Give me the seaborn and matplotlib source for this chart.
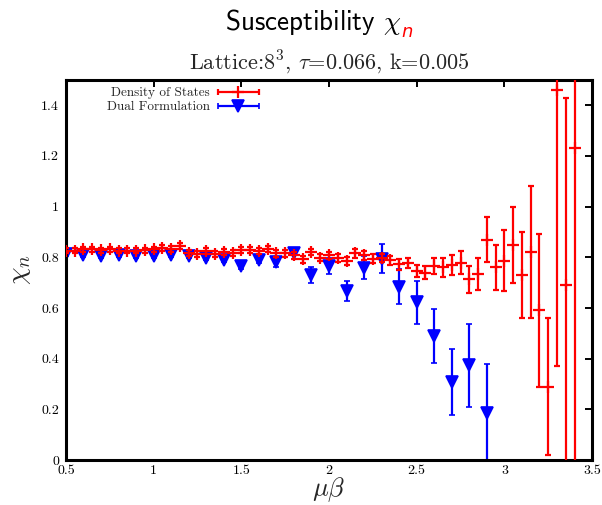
import numpy as np
import matplotlib
matplotlib.use('Agg')
import matplotlib.pyplot as plt
from matplotlib.legend_handler import HandlerErrorbar
import seaborn as sns

# data: density of states (red) and dual formulation (blue)
mu_dos = [0.50, 0.55, 0.60, 0.65, 0.70, 0.75, 0.80, 0.85, 0.90, 0.95,
          1.00, 1.05, 1.10, 1.15, 1.20, 1.25, 1.30, 1.35, 1.40, 1.45,
          1.50, 1.55, 1.60, 1.65, 1.70, 1.75, 1.80, 1.85, 1.90, 1.95,
          2.00, 2.05, 2.10, 2.15, 2.20, 2.25, 2.30, 2.35, 2.40, 2.45,
          2.50, 2.55, 2.60, 2.65, 2.70, 2.75, 2.80, 2.85, 2.90, 2.95,
          3.00, 3.05, 3.10, 3.15, 3.20, 3.25, 3.30, 3.35, 3.40]
chi_dos = [0.825, 0.825, 0.832, 0.832, 0.828, 0.832, 0.825, 0.825, 0.825, 0.828,
           0.832, 0.838, 0.832, 0.846, 0.818, 0.812, 0.825, 0.814, 0.822, 0.818,
           0.828, 0.828, 0.825, 0.832, 0.815, 0.815, 0.807, 0.792, 0.821, 0.798,
           0.807, 0.798, 0.785, 0.815, 0.807, 0.795, 0.798, 0.788, 0.772, 0.778,
           0.745, 0.739, 0.765, 0.760, 0.768, 0.778, 0.713, 0.735, 0.870, 0.760,
           0.787, 0.850, 0.730, 0.820, 0.590, 0.290, 1.460, 0.690, 1.230]
err_dos = [0.010, 0.010, 0.010, 0.010, 0.010, 0.010, 0.010, 0.010, 0.010, 0.010,
           0.010, 0.012, 0.012, 0.012, 0.012, 0.012, 0.012, 0.012, 0.012, 0.012,
           0.012, 0.013, 0.013, 0.013, 0.013, 0.013, 0.013, 0.013, 0.013, 0.013,
           0.013, 0.016, 0.016, 0.016, 0.016, 0.016, 0.016, 0.017, 0.023, 0.021,
           0.024, 0.025, 0.031, 0.038, 0.040, 0.046, 0.054, 0.063, 0.087, 0.090,
           0.120, 0.150, 0.170, 0.260, 0.300, 0.270, 1.090, 0.740, 1.300]

mu_dual = [0.5, 0.6, 0.7, 0.8, 0.9, 1.0, 1.1, 1.2, 1.3, 1.4, 1.5, 1.6, 1.7,
           1.8, 1.9, 2.0, 2.1, 2.2, 2.3, 2.4, 2.5, 2.6, 2.7, 2.8, 2.9]
chi_dual = [0.814, 0.810, 0.805, 0.808, 0.805, 0.805, 0.810, 0.805, 0.798,
            0.790, 0.765, 0.790, 0.780, 0.815, 0.730, 0.765, 0.666, 0.759,
            0.795, 0.684, 0.623, 0.488, 0.309, 0.373, 0.184]
err_dual = [0.008, 0.008, 0.008, 0.008, 0.008, 0.008, 0.008, 0.008, 0.008,
            0.008, 0.010, 0.012, 0.020, 0.020, 0.030, 0.033, 0.040, 0.045,
            0.056, 0.070, 0.085, 0.107, 0.130, 0.165, 0.196]

xticks = [0.5, 1, 1.5, 2, 2.5, 3, 3.5]
xticklabels = ['0.5', '1', '1.5', '2', '2.5', '3', '3.5']
yticks = [0, 0.2, 0.4, 0.6, 0.8, 1.0, 1.2, 1.4]
yticklabels = ['0', '0.2', '0.4', '0.6', '0.8', '1', '1.2', '1.4']

sns.set_style('white')
plt.rcParams['mathtext.fontset'] = 'cm'
plt.rcParams['font.family'] = ['cmr10', 'DejaVu Serif']
plt.rcParams['axes.unicode_minus'] = False

fig = plt.figure(figsize=(6.02, 5.05), dpi=100)
ax = fig.add_axes([0.1095, 0.089, 0.874, 0.753])

red = '#ff0000'
blue = '#0000ff'
kw_red = dict(color=red, ms=8, mew=1.6, elinewidth=1.6, capsize=2.2, capthick=1.6)
kw_blue = dict(color=blue, ms=8, mew=1.2, elinewidth=1.6, capsize=2.2, capthick=1.6)

ax.errorbar(mu_dos, chi_dos, yerr=err_dos, fmt='+', zorder=3, **kw_red)
ax.errorbar(mu_dual, chi_dual, yerr=err_dual, fmt='v', zorder=2, **kw_blue)

# legend samples in gnuplot style: horizontal bar with caps
h1 = ax.errorbar([np.nan], [np.nan], xerr=[1], fmt='+', label='Density of States', **kw_red)
h2 = ax.errorbar([np.nan], [np.nan], xerr=[1], fmt='v', label='Dual Formulation', **kw_blue)

ax.set_xlim(0.5, 3.5)
ax.set_ylim(0, 1.5)
ax.set_xticks(xticks)
ax.set_xticklabels(xticklabels, fontsize=10)
ax.set_yticks(yticks)
ax.set_yticklabels(yticklabels, fontsize=10)
ax.tick_params(direction='in', length=5, width=1.4, top=True, right=True,
               colors='black', pad=5)
ax.tick_params(axis='x', pad=3.5)
for sp in ax.spines.values():
    sp.set_linewidth(2.2)
    sp.set_color('black')

ax.set_xlabel(r'$\mu\beta$', fontsize=19, labelpad=-1)
ax.set_ylabel(r'$\chi_n$', fontsize=20, labelpad=6)

leg = ax.legend(handles=[h1, h2], loc='upper left', bbox_to_anchor=(0.068, 0.995),
                frameon=False, markerfirst=False, fontsize=9.5, handlelength=3.1,
                handletextpad=0.6, labelspacing=0.15, borderaxespad=0.0,
                borderpad=0.4,
                handler_map={type(h1): HandlerErrorbar(xerr_size=1.55)})
for t in leg.get_texts():
    t.set_ha('right')

ax.set_title(r'Lattice:8$^3$, $\tau$=0.066, k=0.005', fontsize=16, pad=8)

# main title: black text with red subscript n
t1 = fig.text(0.52, 0.940, r'Susceptibility $\chi$', fontsize=19.5,
              ha='center', va='baseline', color='black', family='cmss10')
fig.canvas.draw()
bb = t1.get_window_extent()
xr = bb.x1 / fig.bbox.width
fig.text(xr + 0.001, 0.940 - 0.013, 'n', fontsize=13, style='italic',
         color=red, ha='left', va='baseline', family='DejaVu Sans')

fig.savefig('out.png', dpi=100)
